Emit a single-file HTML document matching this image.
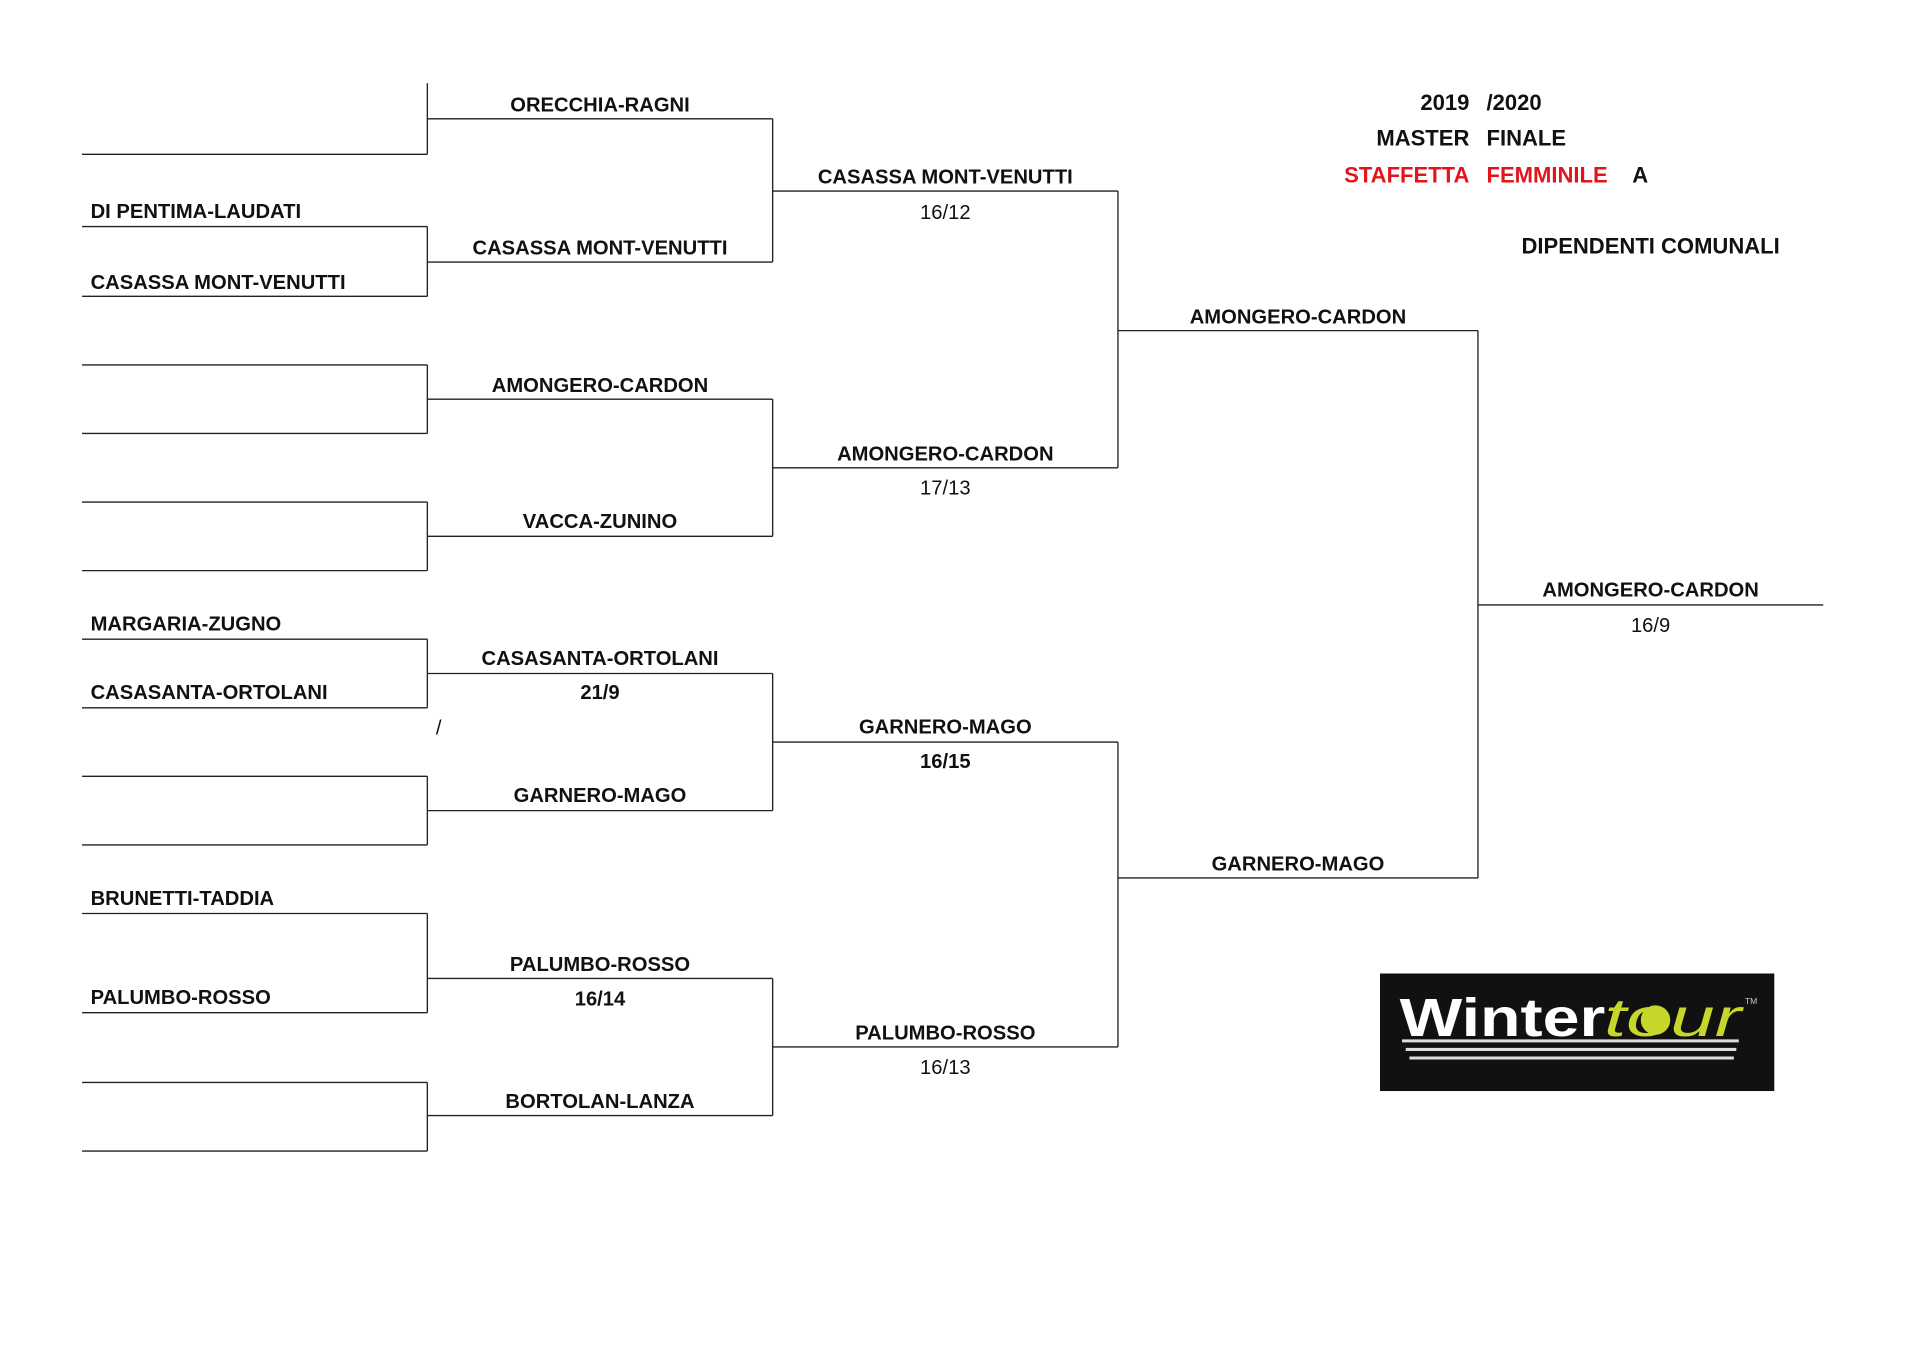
<!DOCTYPE html>
<html><head><meta charset="utf-8"><style>
html,body{margin:0;padding:0;background:#fff;}
svg{display:block;}
text{font-family:"Liberation Sans",Arial,sans-serif;font-weight:bold;font-size:16.5px;fill:#111;}
.c{text-anchor:middle;}
.n{font-weight:normal;}
.r{fill:#e3151b;}
.e{text-anchor:end;}
</style></head><body>
<svg width="1920" height="1358" viewBox="0 0 1568 1109" preserveAspectRatio="none" xmlns="http://www.w3.org/2000/svg">
<g stroke="#222" stroke-width="1.1" fill="none">
<path d="M67 126H349M67 185H349M67 242H349M67 298H349M67 354H349M67 410H349M67 466H349M67 522H349M67 578H349M67 634H349M67 690H349M67 746H349M67 827H349M67 884H349M67 940H349"/>
<path d="M349 68V126M349 185V242M349 298V354M349 410V466M349 522V578M349 634V690M349 746V827M349 884V940"/>
<path d="M349 97H631M349 214H631M349 326H631M349 438H631M349 550H631M349 662H631M349 799H631M349 911H631"/>
<path d="M631 97V214M631 326V438M631 550V662M631 799V911"/>
<path d="M631 156H913M631 382H913M631 606H913M631 855H913"/>
<path d="M913 156V382M913 606V855"/>
<path d="M913 270H1207M913 717H1207M1207 270V717M1207 494H1489"/>
</g>
<text x="74" y="178">DI PENTIMA-LAUDATI</text>
<text x="74" y="236">CASASSA MONT-VENUTTI</text>
<text x="74" y="515">MARGARIA-ZUGNO</text>
<text x="74" y="571">CASASANTA-ORTOLANI</text>
<text x="74" y="739">BRUNETTI-TADDIA</text>
<text x="74" y="820">PALUMBO-ROSSO</text>
<text class="c" x="490" y="91">ORECCHIA-RAGNI</text>
<text class="c" x="490" y="208">CASASSA MONT-VENUTTI</text>
<text class="c" x="490" y="320">AMONGERO-CARDON</text>
<text class="c" x="490" y="431">VACCA-ZUNINO</text>
<text class="c" x="490" y="543">CASASANTA-ORTOLANI</text>
<text class="c" x="490" y="571">21/9</text>
<text class="n" x="356" y="600">/</text>
<text class="c" x="490" y="655">GARNERO-MAGO</text>
<text class="c" x="490" y="793">PALUMBO-ROSSO</text>
<text class="c" x="490" y="821">16/14</text>
<text class="c" x="490" y="905">BORTOLAN-LANZA</text>
<text class="c" x="772" y="150">CASASSA MONT-VENUTTI</text>
<text class="c n" x="772" y="179">16/12</text>
<text class="c" x="772" y="376">AMONGERO-CARDON</text>
<text class="c n" x="772" y="404">17/13</text>
<text class="c" x="772" y="599">GARNERO-MAGO</text>
<text class="c" x="772" y="627">16/15</text>
<text class="c" x="772" y="849">PALUMBO-ROSSO</text>
<text class="c n" x="772" y="877">16/13</text>
<text class="c" x="1060" y="264">AMONGERO-CARDON</text>
<text class="c" x="1060" y="711">GARNERO-MAGO</text>
<text class="c" x="1348" y="487">AMONGERO-CARDON</text>
<text class="c n" x="1348" y="516">16/9</text>
<text class="e" x="1200" y="90" style="font-size:18px">2019</text>
<text x="1214" y="90" style="font-size:18px">/2020</text>
<text class="e" x="1200" y="119" style="font-size:18px">MASTER</text>
<text x="1214" y="119" style="font-size:18px">FINALE</text>
<text class="e r" x="1200" y="149" style="font-size:18px">STAFFETTA</text>
<text class="r" x="1214" y="149" style="font-size:18px">FEMMINILE</text>
<text x="1333" y="149" style="font-size:18px">A</text>
<text class="c" x="1348" y="207" style="font-size:18px">DIPENDENTI COMUNALI</text>
<rect x="1127" y="795" width="322" height="96" fill="#111"/>
<path d="M1145 850H1420M1148 857H1418M1151 864H1416" stroke="#ddd" stroke-width="2.5"/>
<text x="1143" y="846" textLength="168" lengthAdjust="spacingAndGlyphs" style="font-size:44px;fill:#fff;font-weight:900">Winter</text>
<circle cx="1352" cy="833" r="12" fill="#c8d62b"/>
<text x="1310" y="846" textLength="112" lengthAdjust="spacingAndGlyphs" style="font-size:44px;fill:#c8d62b;font-style:italic;font-weight:normal">tour</text>
<text x="1425" y="820" style="font-size:7px;fill:#ccc;font-weight:normal">TM</text>
</svg>
</body></html>
